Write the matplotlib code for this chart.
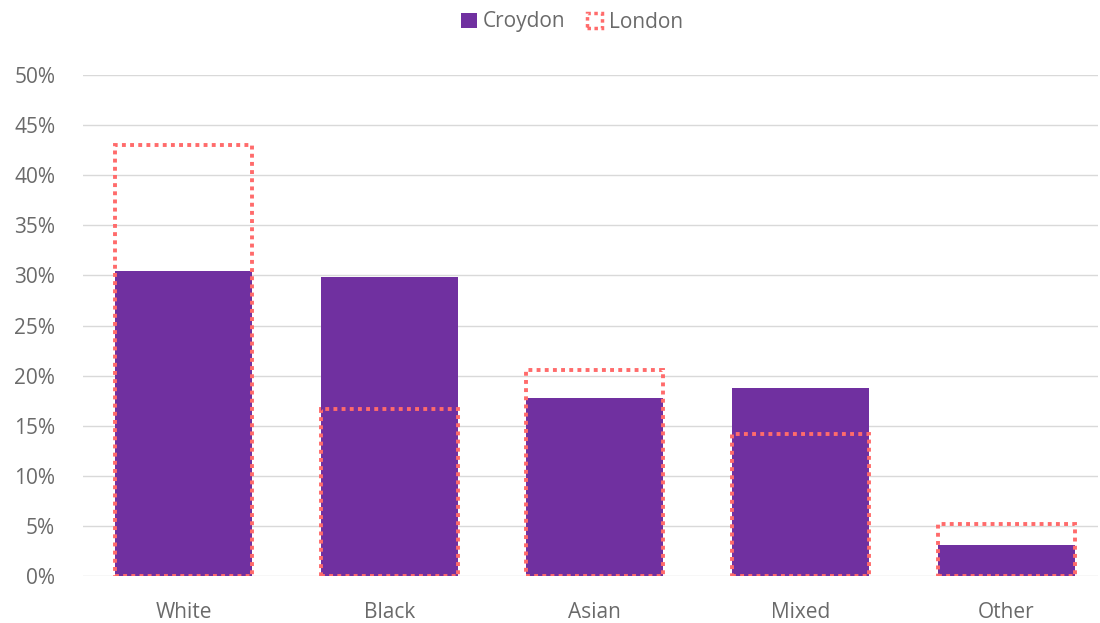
import matplotlib.pyplot as plt
from matplotlib.patches import Patch
from matplotlib.ticker import FuncFormatter

plt.rcParams['font.family'] = ['Open Sans', 'DejaVu Sans']

# Datos del gráfico
categorias = ['White', 'Black', 'Asian', 'Mixed', 'Other']
croydon = [30.4, 29.8, 17.8, 18.8, 3.1]
london = [43.0, 16.7, 20.6, 14.2, 5.2]

morado = '#7030A0'
rojo = '#FF6B6B'
gris = '#6A6A6A'

fig = plt.figure(figsize=(11, 6.23), dpi=100)
ax = fig.add_axes([83 / 1100, 47 / 623, 1015 / 1100, 501 / 623])

x = range(len(categorias))
ancho = 0.666

# Barras de Croydon (rellenas)
ax.bar(x, croydon, width=ancho, color=morado, zorder=2)
# Barras de London (solo borde punteado)
ax.bar(x, london, width=ancho, fill=False, edgecolor=rojo,
       linewidth=2.8, linestyle=(0, (1, 1.1)), zorder=3)

ax.set_xlim(-0.489, 4.447)
ax.set_ylim(0, 50)
ax.set_yticks(range(0, 51, 5))
ax.yaxis.set_major_formatter(FuncFormatter(lambda v, p: f'{int(v)}%'))
ax.set_xticks(list(x))
ax.set_xticklabels(categorias)

ax.grid(axis='y', color='#D9D9D9', linewidth=1, zorder=0)
for s in ax.spines.values():
    s.set_visible(False)
ax.tick_params(axis='both', length=0, colors=gris, labelsize=15)
ax.tick_params(axis='y', pad=20)
ax.tick_params(axis='x', pad=19)

# Leyenda
handles = [Patch(facecolor=morado, label='Croydon'),
           Patch(facecolor='none', edgecolor=rojo, linewidth=2.5,
                 linestyle=(0, (1, 1)), label='London')]
leg = fig.legend(handles=handles, loc='center', bbox_to_anchor=(572 / 1100, 1 - 22 / 623),
                 ncol=2, frameon=False, fontsize=15, handlelength=0.75,
                 handleheight=0.75, handletextpad=0.3, columnspacing=1.0)
for t in leg.get_texts():
    t.set_color(gris)

fig.savefig('out.png', dpi=100)
